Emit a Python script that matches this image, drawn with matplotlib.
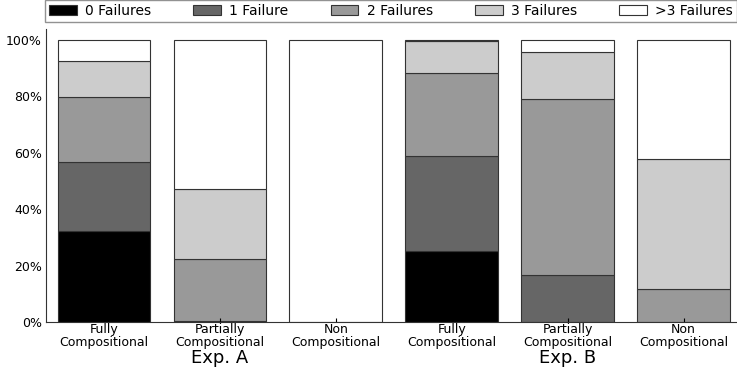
import numpy as np
import matplotlib
matplotlib.use("Agg")
import matplotlib.pyplot as plt
from matplotlib.ticker import PercentFormatter

# categories (bars) and group labels
categories = ["Fully\nCompositional", "Partially\nCompositional", "Non\nCompositional",
              "Fully\nCompositional", "Partially\nCompositional", "Non\nCompositional"]
groups = ["Exp. A", "Exp. B"]
group_centers = [1, 4]

series_names = ["0 Failures", "1 Failure", "2 Failures", "3 Failures", ">3 Failures"]
series_colors = ["#000000", "#666666", "#999999", "#cccccc", "#ffffff"]

# percentage of runs per number of failures
fail0 = [32.2, 0.4, 0.0, 25.2, 0.0, 0.0]
fail1 = [24.4, 0.0, 0.0, 33.6, 16.6, 0.0]
fail2 = [23.1, 21.8, 0.0, 29.4, 62.4, 11.7]
fail3 = [12.7, 24.8, 0.0, 11.5, 16.6, 46.2]
fail_more = [7.6, 53.0, 100.0, 0.3, 4.4, 42.1]


def main():
    plt.rcParams["font.family"] = "DejaVu Sans"
    fig = plt.figure(figsize=(7.37, 3.69), dpi=100)
    ax = fig.add_axes([46 / 737, 47 / 369, 1 - 46 / 737, 293 / 369])

    x = np.arange(len(categories))
    series = [fail0, fail1, fail2, fail3, fail_more]
    bottom = np.zeros(len(categories))
    handles = []
    for vals, name, col in zip(series, series_names, series_colors):
        vals = np.array(vals)
        b = ax.bar(x, vals, 0.8, bottom=bottom, color=col, edgecolor="#333333",
                   linewidth=0.8, label=name)
        handles.append(b)
        bottom += vals

    ax.set_xlim(-0.5, 5.46)
    ax.set_ylim(0, 103.9)
    ax.yaxis.set_major_formatter(PercentFormatter(decimals=0))
    ax.set_yticks([0, 20, 40, 60, 80, 100])
    ax.set_xticks(x)
    ax.set_xticklabels(categories, fontsize=9, linespacing=0.95)
    ax.tick_params(axis="x", direction="in", length=3, pad=1)
    ax.tick_params(axis="y", length=0, labelsize=9, pad=3)
    for s in ["top", "right"]:
        ax.spines[s].set_visible(False)
    ax.spines["left"].set_color("#333333")
    ax.spines["bottom"].set_color("#333333")

    # group labels below the tick labels
    for g, c in zip(groups, group_centers):
        ax.text(c, -0.092, g, ha="center", va="top", fontsize=13,
                transform=ax.get_xaxis_transform())

    leg = fig.legend(handles=handles, loc="lower left", ncol=5, mode="expand",
                     bbox_to_anchor=(45 / 737, 347 / 369, 692 / 737, 22 / 369),
                     fancybox=False, borderaxespad=0, fontsize=10,
                     borderpad=0.3, handletextpad=0.6)
    leg.get_frame().set_edgecolor("#777777")

    fig.savefig("out.png", dpi=100)


if __name__ == "__main__":
    main()
